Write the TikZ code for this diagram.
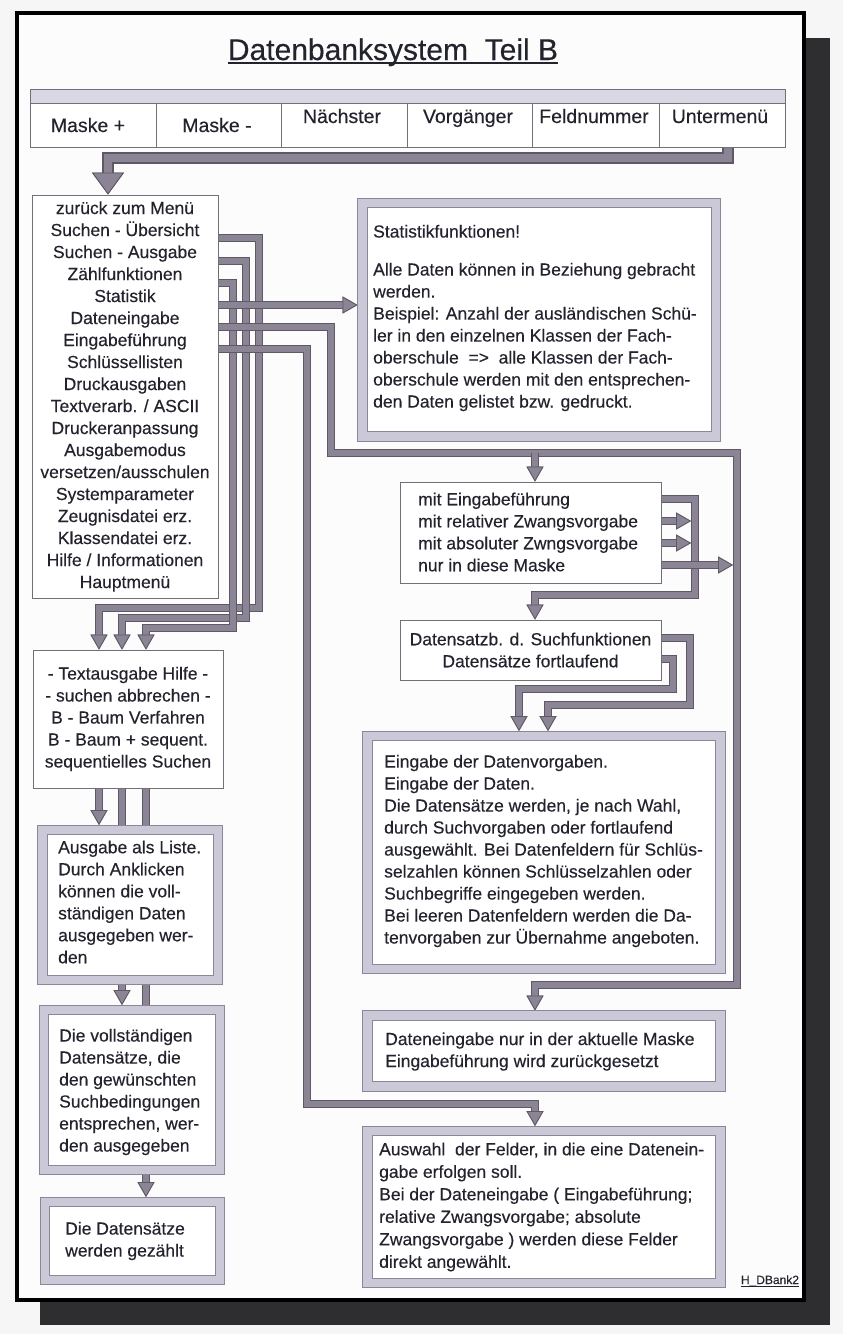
\documentclass[tikz,border=0pt]{standalone}
\usepackage{fontspec}
\setmainfont{Liberation Sans}[FakeBold=0.3]
\usetikzlibrary{arrows.meta}
\pgfdeclarelayer{bg}
\pgfdeclarelayer{conns}
\pgfsetlayers{bg,conns,main}
\definecolor{cband}{HTML}{8B8494}
\definecolor{cedge}{HTML}{5E5965}
\definecolor{lav}{HTML}{CBC9D8}
\definecolor{lavedge}{HTML}{8A8898}
\definecolor{boxedge}{HTML}{707078}
\definecolor{strip}{HTML}{D9D7E3}
\definecolor{ctext}{HTML}{23232D}
\definecolor{pagebg}{HTML}{FCFCFD}
\definecolor{outbg}{HTML}{F6F6F7}
\definecolor{shadowc}{HTML}{2E2E30}
\newcommand\fsbox{\fontsize{17.5}{22}\selectfont}
\begin{document}
\begin{tikzpicture}[x=1pt,y=-1pt,
  conn/.style={draw=cband,line width=5.5pt,preaction={draw=cedge,line width=8pt},
    -{Triangle[width=17pt,length=15pt,line width=0.8pt,fill=cband,color=cedge]}},
  bigconn/.style={draw=cband,line width=8.5pt,preaction={draw=cedge,line width=11.5pt},
    -{Triangle[width=32pt,length=22pt,line width=0.9pt,fill=cband,color=cedge]}},
  pbox/.style={draw=boxedge,line width=0.9pt,fill=white,inner sep=0pt},
  lbox/.style={draw=lavedge,double=lav,double distance=8.5pt,line width=0.8pt,fill=white,inner sep=0pt,outer sep=5pt},
  cell/.style={draw=boxedge,line width=0.8pt,fill=white,inner sep=0pt,minimum height=44pt},
  btxt/.style={font=\fsbox,text=ctext,align=left,anchor=west,inner sep=0pt},
  ctxt/.style={font=\fsbox,text=ctext,align=center},
  mtxt/.style={font=\fontsize{19.5}{22}\selectfont,text=ctext,anchor=base,inner sep=0pt}
]
\useasboundingbox (0,0) rectangle (843,1334);
\begin{pgfonlayer}{bg}
\fill[outbg] (0,0) rectangle (843,1334);
\fill[shadowc] (40,38) rectangle (830,1325);
\filldraw[fill=pagebg,draw=black,line width=3.5pt] (17,13) rectangle (804,1300);
\end{pgfonlayer}

% title
\node[font=\fontsize{30}{34}\selectfont,text=ctext,anchor=base,inner sep=0pt] (title) at (393,60) {Datenbanksystem\ \ Teil B};
\draw[ctext,line width=1.3pt] ([yshift=-3pt]title.base west) -- ([yshift=-3pt]title.base east);

% menu bar
\draw[fill=strip,draw=boxedge,line width=0.8pt] (30,89) rectangle (785,103);
\node[cell,minimum width=126pt] (mp) at (93,125) {};
\node[cell,minimum width=125pt] (mm) at (218.5,125) {};
\node[cell,minimum width=126pt] (nx) at (344,125) {};
\node[cell,minimum width=125pt] (vg) at (469.5,125) {};
\node[cell,minimum width=127pt] (fn) at (595.5,125) {};
\node[cell,minimum width=126pt] (um) at (722,125) {};
\node[mtxt] (mpT) at (88,132) {Maske +};
\node[mtxt] (mmT) at (217,132) {Maske -};
\node[mtxt] (nxT) at (342,123) {Nächster};
\node[mtxt] (vgT) at (468,123) {Vorgänger};
\node[mtxt] (fnT) at (594,123) {Feldnummer};
\node[mtxt] (umT) at (720,123) {Untermenü};

% boxes
\node[pbox,ctxt,minimum width=186pt,minimum height=403pt] (menu) at (125,396.5) {zurück zum Menü\\Suchen - Übersicht\\Suchen - Ausgabe\\Zählfunktionen\\Statistik\\Dateneingabe\\Eingabeführung\\Schlüssellisten\\Druckausgaben\\Textverarb. / ASCII\\Druckeranpassung\\Ausgabemodus\\versetzen/ausschulen\\Systemparameter\\Zeugnisdatei erz.\\Klassendatei erz.\\Hilfe / Informationen\\Hauptmenü};

\node[pbox,ctxt,minimum width=190pt,minimum height=138pt] (textaus) at (128,719) {- Textausgabe Hilfe -\\- suchen abbrechen -\\B - Baum Verfahren\\B - Baum + sequent.\\sequentielles Suchen};

\node[lbox,minimum width=175.5pt,minimum height=150pt] (liste) at (130.25,905) {};
\node[btxt] (listeT) at (58,902) {Ausgabe als Liste.\\Durch Anklicken\\können die voll-\\ständigen Daten\\ausgegeben wer-\\den};

\node[lbox,minimum width=176pt,minimum height=160pt] (voll) at (132,1090) {};
\node[btxt] (vollT) at (59,1092) {Die vollständigen\\Datensätze, die\\den gewünschten\\Suchbedingungen\\entsprechen, wer-\\den ausgegeben};

\node[lbox,minimum width=175pt,minimum height=78pt] (gez) at (132.5,1241) {};
\node[btxt] (gezT) at (65,1241) {Die Datensätze\\werden gezählt};

\node[lbox,minimum width=353.5pt,minimum height=233.5pt] (stat) at (539.25,319.75) {};
\node[btxt] (statT) at (373,318) {Statistikfunktionen!\\[16pt]Alle Daten können in Beziehung gebracht\\werden.\\Beispiel: Anzahl der ausländischen Schü-\\ler in den einzelnen Klassen der Fach-\\oberschule\ \ =>\ \ alle Klassen der Fach-\\oberschule werden mit den entsprechen-\\den Daten gelistet bzw. gedruckt.};

\node[pbox,minimum width=261pt,minimum height=101pt] (eing1) at (530.5,532.5) {};
\node[btxt] (eing1T) at (418,532) {mit Eingabeführung\\mit relativer Zwangsvorgabe\\mit absoluter Zwngsvorgabe\\nur in diese Maske};

\node[pbox,ctxt,minimum width=261pt,minimum height=60pt] (dsatz) at (530.5,650) {Datensatzb. d. Suchfunktionen\\Datensätze fortlaufend};

\node[lbox,minimum width=353pt,minimum height=233pt] (eingabe) at (544,852.5) {};
\node[btxt] (eingabeT) at (384,851) {Eingabe der Datenvorgaben.\\Eingabe der Daten.\\Die Datensätze werden, je nach Wahl,\\durch Suchvorgaben oder fortlaufend\\ausgewählt. Bei Datenfeldern für Schlüs-\\selzahlen können Schlüsselzahlen oder\\Suchbegriffe eingegeben werden.\\Bei leeren Datenfeldern werden die Da-\\tenvorgaben zur Übernahme angeboten.};

\node[lbox,minimum width=353pt,minimum height=71pt] (dein) at (544,1051) {};
\node[btxt] (deinT) at (385,1051.5) {Dateneingabe nur in der aktuelle Maske\\Eingabeführung wird zurückgesetzt};

\node[lbox,minimum width=353pt,minimum height=152pt] (ausw) at (544,1207) {};
\node[btxt,font=\fontsize{17.5}{22.5}\selectfont] (auswT) at (379,1207) {Auswahl\ \ der Felder, in die eine Datenein-\\gabe erfolgen soll.\\Bei der Dateneingabe ( Eingabeführung;\\relative Zwangsvorgabe; absolute\\Zwangsvorgabe ) werden diese Felder\\direkt angewählt.};

\node[font=\fontsize{12}{14}\selectfont,text=ctext,anchor=base,inner sep=0pt] (hdb) at (770,1284) {H\_DBank2};
\draw[ctext,line width=0.7pt] ([yshift=-2pt]hdb.base west) -- ([yshift=-2pt]hdb.base east);

% coordinates
\coordinate (c0) at (728,158);
\coordinate (c0b) at (108,158);
\coordinate (r1) at (0,238);
\coordinate (r2) at (0,261);
\coordinate (r3) at (0,283);
\coordinate (r4) at (0,305);
\coordinate (r5) at (0,327);
\coordinate (r6) at (0,349);
\coordinate (k1) at (259,608);
\coordinate (k2) at (246,618);
\coordinate (k3) at (233,628);
\coordinate (x99) at (99,0);
\coordinate (x122) at (122,0);
\coordinate (x146) at (146,0);
\coordinate (x535) at (535,0);
\coordinate (k5a) at (331,453);
\coordinate (k5b) at (737,985);
\coordinate (j1) at (535,453);
\coordinate (k6) at (307,1104);
\coordinate (e1) at (0,499);
\coordinate (e2) at (0,521);
\coordinate (e3) at (0,543);
\coordinate (e4) at (0,565);
\coordinate (k7) at (695,595);
\coordinate (t2) at (691,521);
\coordinate (t3) at (691,543);
\coordinate (t4) at (733,565);
\coordinate (d1) at (0,638);
\coordinate (d2) at (0,659);
\coordinate (k11) at (690,705);
\coordinate (k12) at (673,689);
\coordinate (x548) at (548,0);
\coordinate (x519) at (519,0);

% connectors
\begin{pgfonlayer}{conns}
\draw[bigconn] (um.south -| c0) -- (c0) -- (c0b) -- (menu.north -| c0b);
\draw[conn] (menu.east |- r1) -| (k1) -| (textaus.north -| x99);
\draw[conn] (menu.east |- r2) -| (k2) -| (textaus.north -| x122);
\draw[conn] (menu.east |- r3) -| (k3) -| (textaus.north -| x146);
\draw[conn] (menu.east |- r4) -- (stat.west |- r4);
\draw[conn] (menu.east |- r5) -| (k5a) -| (k5b) -| (dein.north -| x535);
\draw[conn] (menu.east |- r6) -| (k6) -| (ausw.north -| x535);
\draw[conn] (j1) -- (eing1.north -| j1);
\draw[conn] (eing1.east |- e1) -| (k7) -| (dsatz.north -| x535);
\draw[conn] (eing1.east |- e2) -- (t2);
\draw[conn] (eing1.east |- e3) -- (t3);
\draw[conn] (eing1.east |- e4) -- (t4);
\draw[conn] (dsatz.east |- d1) -| (k11) -| (eingabe.north -| x548);
\draw[conn] (dsatz.east |- d2) -| (k12) -| (eingabe.north -| x519);
\draw[conn] (textaus.south -| x99) -- (liste.north -| x99);
\draw[conn] (textaus.south -| x122) -- (voll.north -| x122);
\draw[conn] (textaus.south -| x146) -- (gez.north -| x146);
\end{pgfonlayer}
\end{tikzpicture}
\end{document}
